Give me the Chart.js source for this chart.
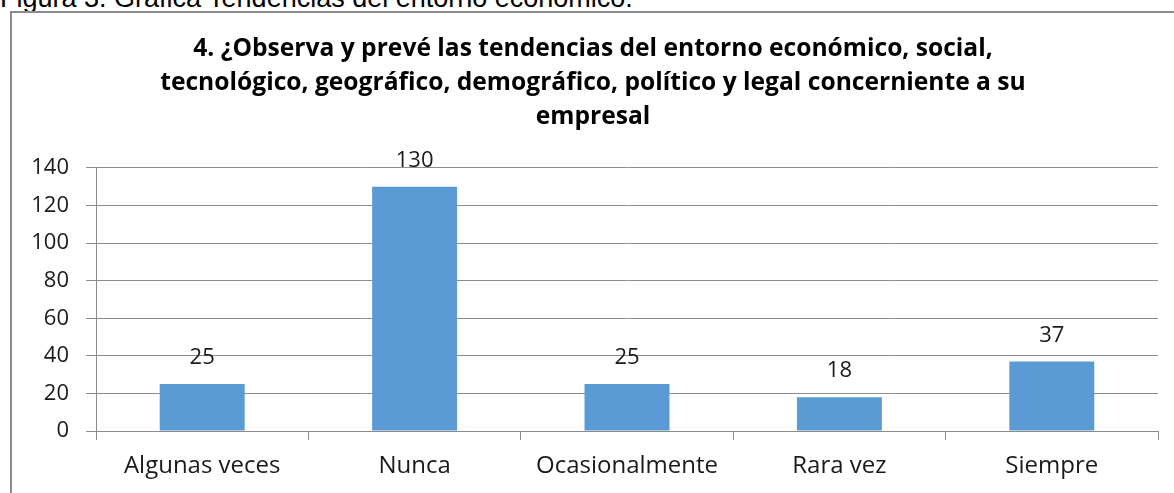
<!DOCTYPE html>
<html>
<head>
<meta charset="utf-8">
<script src="https://cdn.jsdelivr.net/npm/chart.js"></script>
<style>
  html, body { margin: 0; padding: 0; background: #fff; overflow: hidden; }
  body { width: 1174px; height: 493px; position: relative; }
  #caption {
    position: absolute; left: 0; top: -17px; line-height: 31px;
    font: 27px "Liberation Sans", Arial, sans-serif; color: #000; white-space: nowrap;
  }
  #box {
    position: absolute; left: 10px; top: 11px; width: 1200px; height: 520px;
    border: 2px solid #8c8c8c; box-sizing: border-box;
  }
  #grafica { position: absolute; left: 0; top: 0; }
</style>
</head>
<body>
<div id="caption">Figura 3. Gráfica Tendencias del entorno económico.</div>
<div id="box"></div>
<canvas id="grafica" width="1174" height="493"></canvas>
<script>
const categorias = ['Algunas veces', 'Nunca', 'Ocasionalmente', 'Rara vez', 'Siempre'];
const valores = [25, 130, 25, 18, 37];
const ticksY = [0, 20, 40, 60, 80, 100, 120, 140];
const titulo = [
  '4. ¿Observa y prevé las tendencias del entorno económico, social,',
  'tecnológico, geográfico, demográfico, político y legal concerniente a su',
  'empresal'
];

const fuente = '"Open Sans", Lato, sans-serif';

// etiquetas encima de cada barra
const etiquetas = {
  id: 'etiquetas',
  afterDatasetsDraw(chart) {
    const ctx = chart.ctx;
    const meta = chart.getDatasetMeta(0);
    ctx.save();
    ctx.font = '22px ' + fuente;
    ctx.fillStyle = '#1a1a1a';
    ctx.textAlign = 'center';
    ctx.textBaseline = 'middle';
    meta.data.forEach((bar, i) => {
      ctx.fillText(String(valores[i]), bar.x, bar.y - 26);
    });
    ctx.restore();
  }
};

const canvas = document.getElementById('grafica');
let chartE;
try {
  chartE = new Chart(canvas, {
    type: 'bar',
    data: {
      labels: categorias,
      datasets: [{
        data: valores,
        backgroundColor: '#5b9bd5',
        barPercentage: 0.4,
        categoryPercentage: 1,
      }],
    },
    options: {
      responsive: false,
      animation: false,
      layout: { padding: { left: 28, right: 16, top: 0, bottom: 0 } },
      plugins: {
        legend: { display: false },
        tooltip: { enabled: false },
        title: {
          display: true,
          text: titulo,
          color: '#000',
          font: { family: fuente, size: 24.6, weight: 'bold', lineHeight: 1.382 },
          padding: { top: 32, bottom: 34 },
        },
      },
      scales: {
        x: {
          grid: {
            offset: true,
            drawOnChartArea: false,
            drawTicks: true,
            tickLength: 9,
            color: '#8c8c8c',
          },
          border: { color: '#8c8c8c', width: 1 },
          ticks: {
            color: '#1a1a1a',
            font: { family: fuente, size: 24 },
            padding: 12,
            maxRotation: 0,
          },
          afterFit(scale) { scale.height = 62; },
        },
        y: {
          min: 0,
          max: 140,
          afterBuildTicks(scale) { scale.ticks = ticksY.map(v => ({ value: v })); },
          grid: { color: '#8c8c8c', tickLength: 10 },
          border: { color: '#8c8c8c', width: 1 },
          ticks: {
            color: '#1a1a1a',
            font: { family: fuente, size: 22 },
            padding: 17,
          },
          afterFit(scale) { scale.width = 68; },
        },
      },
    },
    plugins: [etiquetas],
  });
} catch (error) {
  console.log(error);
}
</script>
</body>
</html>
